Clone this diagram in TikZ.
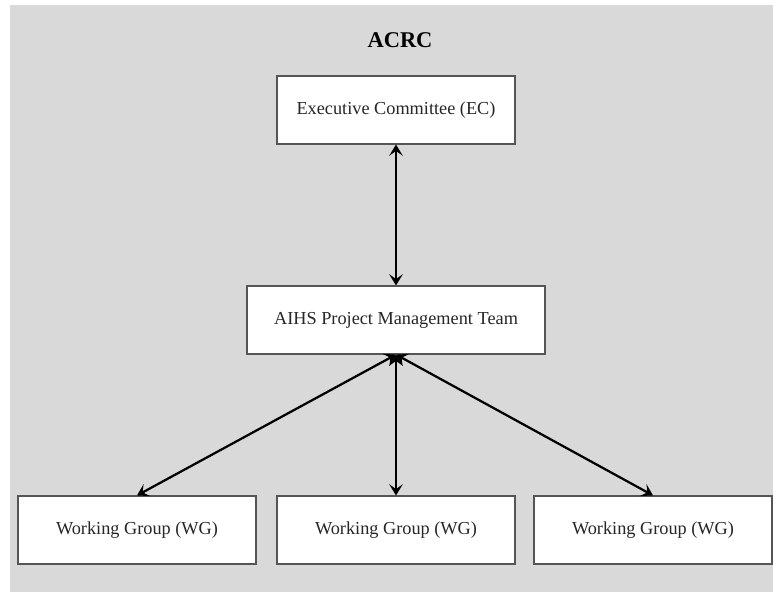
\documentclass[tikz,border=0pt]{standalone}
\usepackage{fontspec}
\setmainfont{Liberation Serif}
\usepackage{tikz}
\usetikzlibrary{arrows.meta,positioning}
\definecolor{panelgrey}{RGB}{217,217,217}
\definecolor{edgegrey}{RGB}{85,85,85}
\tikzset{
  base/.style={font=\fontsize{13}{15}\selectfont, align=center, inner sep=3pt, text=black!85},
  box/.style={base, rectangle, draw=edgegrey, fill=white, line width=0.8pt, minimum height=1.7cm, minimum width=5.95cm},
  arr2/.style={line width=1.6pt, draw=black, arrows={Stealth[length=2.8mm,width=3.4mm,inset=1.2mm]-Stealth[length=2.8mm,width=3.4mm,inset=1.2mm]}},
  titlelabel/.style={font=\fontsize{16}{18}\selectfont\bfseries},
}
\begin{document}
\begin{tikzpicture}
  \useasboundingbox (0,0) rectangle (19.325,-14.8);
  \fill[panelgrey] (0.25,-0.125) rectangle (19.325,-14.8);
  \node[titlelabel] (acrc) at (10.0,-1.0) {ACRC};
  \node[box] (ec) at (9.9,-2.75) {Executive Committee (EC)};
  \node[box,minimum width=7.45cm] (pmt) at (9.9,-8.0) {AIHS Project Management Team};
  \foreach \i/\x in {1/3.425,2/9.9,3/16.325}{
    \node[box] (wg\i) at (\x,-13.25) {Working Group (WG)};
    \draw[arr2] (pmt.south) -- (wg\i.north);
  }
  \draw[arr2] (ec.south) -- (pmt.north);
\end{tikzpicture}
\end{document}
